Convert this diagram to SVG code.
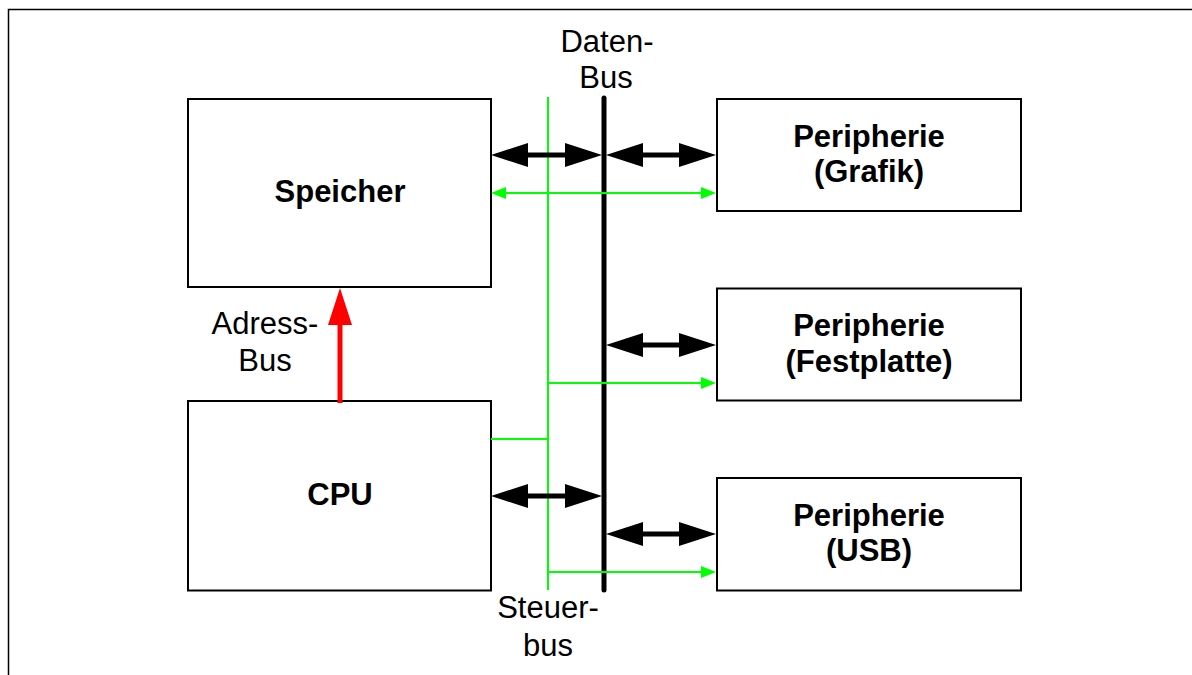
<svg xmlns="http://www.w3.org/2000/svg" width="1192" height="675" viewBox="0 0 1192 675">
<style>
.box{fill:#fff;stroke:#000;stroke-width:2}
.t{font-family:"Liberation Sans",Arial,sans-serif;font-size:31px;text-anchor:middle;fill:#000}
.b{font-weight:bold}
.blk{stroke:#000;stroke-width:5;fill:none}
.grn{stroke:#00ff00;stroke-width:2;fill:none}
.red{stroke:#ff0000;stroke-width:5;fill:none}
</style>
<defs>
<marker id="hb" markerUnits="userSpaceOnUse" markerWidth="37" markerHeight="24" refX="7" refY="12" orient="auto-start-reverse"><path d="M0,0 L37,12 L0,24 z" fill="#000"/></marker>
<marker id="hg" markerUnits="userSpaceOnUse" markerWidth="15" markerHeight="12" refX="3" refY="6" orient="auto-start-reverse"><path d="M0,0 L15,6 L0,12 z" fill="#00ff00"/></marker>
<marker id="hr" markerUnits="userSpaceOnUse" markerWidth="37" markerHeight="24" refX="7" refY="12" orient="auto-start-reverse"><path d="M0,0 L37,12 L0,24 z" fill="#ff0000"/></marker>
</defs>
<rect width="1192" height="675" fill="#fff"/>
<rect x="8.5" y="9.5" width="1200" height="700" fill="none" stroke="#000" stroke-width="1.5"/>

<g id="speicher"><rect class="box" x="188" y="99" width="303" height="188"/><text class="t b" x="340" y="202">Speicher</text></g>
<g id="cpu"><rect class="box" x="188" y="401" width="303" height="189.5"/><text class="t b" x="340" y="505">CPU</text></g>
<g id="grafik"><rect class="box" x="717" y="99" width="304" height="112"/><text class="t b" x="869" y="147">Peripherie</text><text class="t b" x="869" y="182">(Grafik)</text></g>
<g id="festplatte"><rect class="box" x="717" y="288.5" width="304" height="112"/><text class="t b" x="869" y="336">Peripherie</text><text class="t b" x="869" y="372">(Festplatte)</text></g>
<g id="usb"><rect class="box" x="717" y="478" width="304" height="112.5"/><text class="t b" x="869" y="526">Peripherie</text><text class="t b" x="869" y="561">(USB)</text></g>

<g id="labels">
<text class="t" x="607" y="52">Daten-</text><text class="t" x="606" y="88">Bus</text>
<text class="t" x="265" y="334">Adress-</text><text class="t" x="265" y="371">Bus</text>
<text class="t" x="548" y="618">Steuer-</text><text class="t" x="548" y="656">bus</text>
</g>

<g id="connectors">
<line class="grn" x1="548" y1="97" x2="548" y2="590"/>
<line class="grn" x1="491" y1="439" x2="548" y2="439"/>
<line class="blk" x1="604" y1="98" x2="604" y2="590" stroke-linecap="round"/>
<line class="blk" x1="521" y1="155" x2="572" y2="155" marker-start="url(#hb)" marker-end="url(#hb)"/>
<line class="blk" x1="636" y1="155" x2="686" y2="155" marker-start="url(#hb)" marker-end="url(#hb)"/>
<line class="blk" x1="636" y1="345" x2="686" y2="345" marker-start="url(#hb)" marker-end="url(#hb)"/>
<line class="blk" x1="521" y1="496" x2="572" y2="496" marker-start="url(#hb)" marker-end="url(#hb)"/>
<line class="blk" x1="636" y1="534" x2="686" y2="534" marker-start="url(#hb)" marker-end="url(#hb)"/>
<line class="grn" x1="503" y1="193" x2="704" y2="193" marker-start="url(#hg)" marker-end="url(#hg)"/>
<line class="grn" x1="548" y1="383" x2="704" y2="383" marker-end="url(#hg)"/>
<line class="grn" x1="548" y1="572" x2="704" y2="572" marker-end="url(#hg)"/>
<line class="red" x1="340" y1="403" x2="340" y2="318" marker-end="url(#hr)"/>
</g>
</svg>
